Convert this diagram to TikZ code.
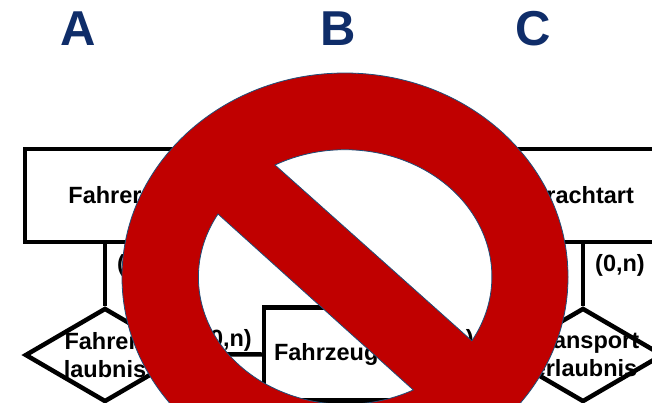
\documentclass[tikz,border=0pt]{standalone}
\usepackage{fontspec}
\setmainfont{Liberation Sans}
\usepackage{tikz}
\usetikzlibrary{shapes.geometric}
\definecolor{ringred}{HTML}{C00000}
\definecolor{ringblue}{HTML}{1F4E79}
\definecolor{lettercol}{HTML}{0F2D69}
\tikzset{
	erfont/.style={font=\fontsize{23.5}{28}\selectfont\bfseries},
	entity/.style={draw, line width=4.5pt, minimum width=160pt, minimum height=93pt, inner xsep=10pt, erfont},
	relation/.style={draw, diamond, aspect=1.7, line width=4.5pt, minimum width=160pt, minimum height=94pt, inner sep=0pt},
	reltext/.style={erfont, align=center},
	card/.style={erfont},
	letter/.style={font=\fontsize{49}{49}\selectfont\bfseries, text=lettercol}
}
\begin{document}
\begin{tikzpicture}[x=1pt,y=1pt]
	\useasboundingbox (0,-402) rectangle (652,0);
	\clip (0,-402) rectangle (652,0);
	\node[letter] (la) at (78.5,-29) {A};
	\node[letter] (lb) at (338,-29) {B};
	\node[letter] (lc) at (533,-29) {C};
	\node[entity] (fahrer) at (105,-195.5) {Fahrer};
	\node[entity] (fracht) at (583,-195.5) {Frachtart};
	\node[entity, text width=140pt, align=left] (fzg) at (344,-354) {Fahrzeug};
	\node[relation, label={[reltext]center:Fahrer-\\laubnis}] (ferl) at (105,-355) {};
	\node[relation, label={[reltext,xshift=2pt]center:Transport\\erlaubnis}] (terl) at (583,-355) {};
	\draw[line width=4.5pt] (fahrer) -- (ferl);
	\draw[line width=4.5pt] (fracht) -- (terl);
	\draw[line width=4.5pt] (ferl) -- (fzg);
	\draw[line width=4.5pt] (fzg) -- (terl);
	\node[card] (c1) at (142,-265) {(0,n)};
	\node[card] (c2) at (620,-265) {(0,n)};
	\node[card] (c3) at (227,-340) {(0,n)};
	\node[card] (c4) at (449,-340) {(0,n)};
	% ring with bar, open parts show what lies behind
	\draw[fill=ringred, draw=ringblue, line width=0.8pt, even odd rule]
		(345,-277) ellipse [x radius=223pt, y radius=204pt]
		(275,-165) arc [start angle=118.4, end angle=-30.3, x radius=147pt, y radius=127pt] -- cycle
		(218,-214) arc [start angle=150.1, end angle=297.5, x radius=147pt, y radius=127pt] -- cycle;
\end{tikzpicture}
\end{document}
